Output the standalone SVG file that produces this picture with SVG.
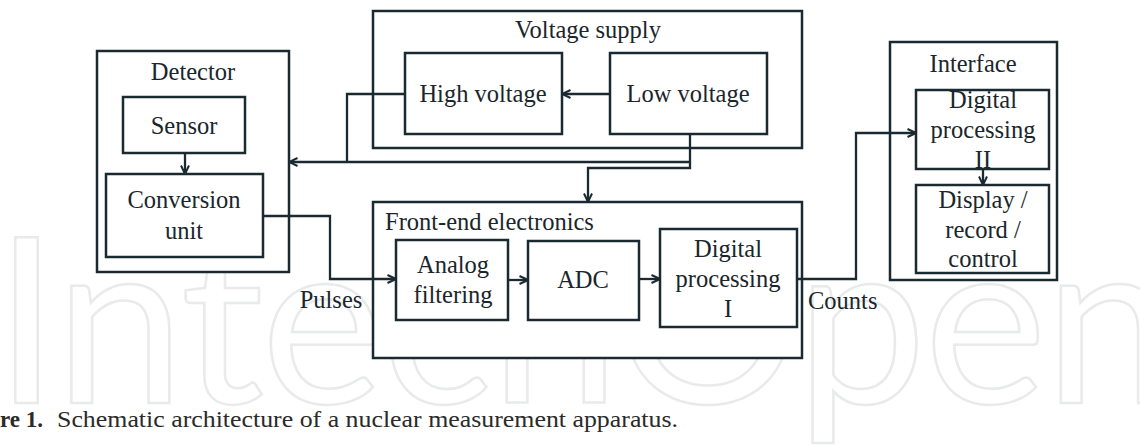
<svg xmlns="http://www.w3.org/2000/svg" width="1140" height="446" viewBox="0 0 1140 446">
<style>
.box{fill:#fff;stroke:#1b2a30;stroke-width:2.5}
.outer{fill:#fff;stroke:#1b2a30;stroke-width:2.5}
.lbl{font-family:"Liberation Serif","Times New Roman",serif;font-size:24.5px;fill:#1a262b;text-anchor:middle}
.st{text-anchor:start}
.wire{fill:none;stroke:#1b2a30;stroke-width:2.3}
.wm{font-family:Lato,"Open Sans",sans-serif;font-size:232px;fill:none;stroke:#e9eaea;stroke-width:2.5}
.cap{font-family:"Liberation Serif","Times New Roman",serif;font-size:23px;fill:#2a2a2a}
</style>
<defs>
<marker id="arr" viewBox="0 0 10 10" refX="9.5" refY="5" markerWidth="10" markerHeight="10" markerUnits="userSpaceOnUse" orient="auto">
<path d="M1,1 L9.5,5 L1,9" fill="none" stroke="#1b2a30" stroke-width="2"/>
</marker>
</defs>
<rect width="1140" height="446" fill="#fff"/>
<text class="wm" x="-6" y="403" textLength="1180" lengthAdjust="spacing">IntechOpen</text>

<g id="detector">
<rect class="outer" x="97" y="51" width="192" height="221"/>
<text class="lbl" x="193" y="80">Detector</text>
</g>
<g id="sensor">
<rect class="box" x="123" y="97" width="122" height="56"/>
<text class="lbl" x="184" y="134">Sensor</text>
</g>
<g id="conversion">
<rect class="box" x="106" y="174" width="157" height="83"/>
<text class="lbl" x="184" y="208">Conversion</text>
<text class="lbl" x="184" y="239">unit</text>
</g>

<g id="voltage-supply">
<rect class="outer" x="373" y="11" width="429" height="137"/>
<text class="lbl" x="588" y="38">Voltage supply</text>
</g>
<g id="high-voltage">
<rect class="box" x="405" y="53" width="157" height="81"/>
<text class="lbl" x="483" y="102">High voltage</text>
</g>
<g id="low-voltage">
<rect class="box" x="610" y="53" width="157" height="81"/>
<text class="lbl" x="688" y="102">Low voltage</text>
</g>

<g id="front-end">
<rect class="outer" x="373" y="202" width="429" height="156"/>
<text class="lbl st" x="385" y="230">Front-end electronics</text>
</g>
<g id="analog">
<rect class="box" x="396" y="240" width="112" height="80"/>
<text class="lbl" x="453" y="273">Analog</text>
<text class="lbl" x="453" y="303">filtering</text>
</g>
<g id="adc">
<rect class="box" x="528" y="241" width="111" height="79"/>
<text class="lbl" x="583" y="288">ADC</text>
</g>
<g id="dp1">
<rect class="box" x="660" y="229" width="137" height="98"/>
<text class="lbl" x="728" y="257">Digital</text>
<text class="lbl" x="728" y="287">processing</text>
<text class="lbl" x="728" y="317">I</text>
</g>

<g id="interface">
<rect class="outer" x="890" y="42" width="167" height="238"/>
<text class="lbl" x="973" y="72">Interface</text>
</g>
<g id="dp2">
<rect class="box" x="916" y="90" width="133" height="79"/>
<text class="lbl" x="983" y="108">Digital</text>
<text class="lbl" x="983" y="138">processing</text>
<text class="lbl" x="983" y="168">II</text>
</g>
<g id="display">
<rect class="box" x="916" y="185" width="133" height="88"/>
<text class="lbl" x="983" y="208">Display /</text>
<text class="lbl" x="983" y="238">record /</text>
<text class="lbl" x="983" y="267">control</text>
</g>

<g id="connectors">
<path class="wire" d="M185,153 V174" marker-end="url(#arr)"/>
<path class="wire" d="M610,94 H562" marker-end="url(#arr)"/>
<path class="wire" d="M405,94 H347 V162"/>
<path class="wire" d="M690,134 V168 H588 V202" marker-end="url(#arr)"/>
<path class="wire" d="M690,162 H289" marker-end="url(#arr)"/>
<path class="wire" d="M263,216 H330 V279 H396" marker-end="url(#arr)"/>
<path class="wire" d="M508,280 H528" marker-end="url(#arr)"/>
<path class="wire" d="M639,279 H660" marker-end="url(#arr)"/>
<path class="wire" d="M797,279 H856 V133 H916" marker-end="url(#arr)"/>
<path class="wire" d="M983,169 V185" marker-end="url(#arr)"/>
</g>

<g id="labels">
<text class="lbl" x="331" y="308">Pulses</text>
<text class="lbl st" x="808" y="309">Counts</text>
</g>

<g id="caption">
<text class="cap" x="0" y="427" font-weight="bold" textLength="43" lengthAdjust="spacingAndGlyphs">re 1.</text>
<text class="cap" x="57" y="427" textLength="621" lengthAdjust="spacingAndGlyphs">Schematic architecture of a nuclear measurement apparatus.</text>
</g>
</svg>
